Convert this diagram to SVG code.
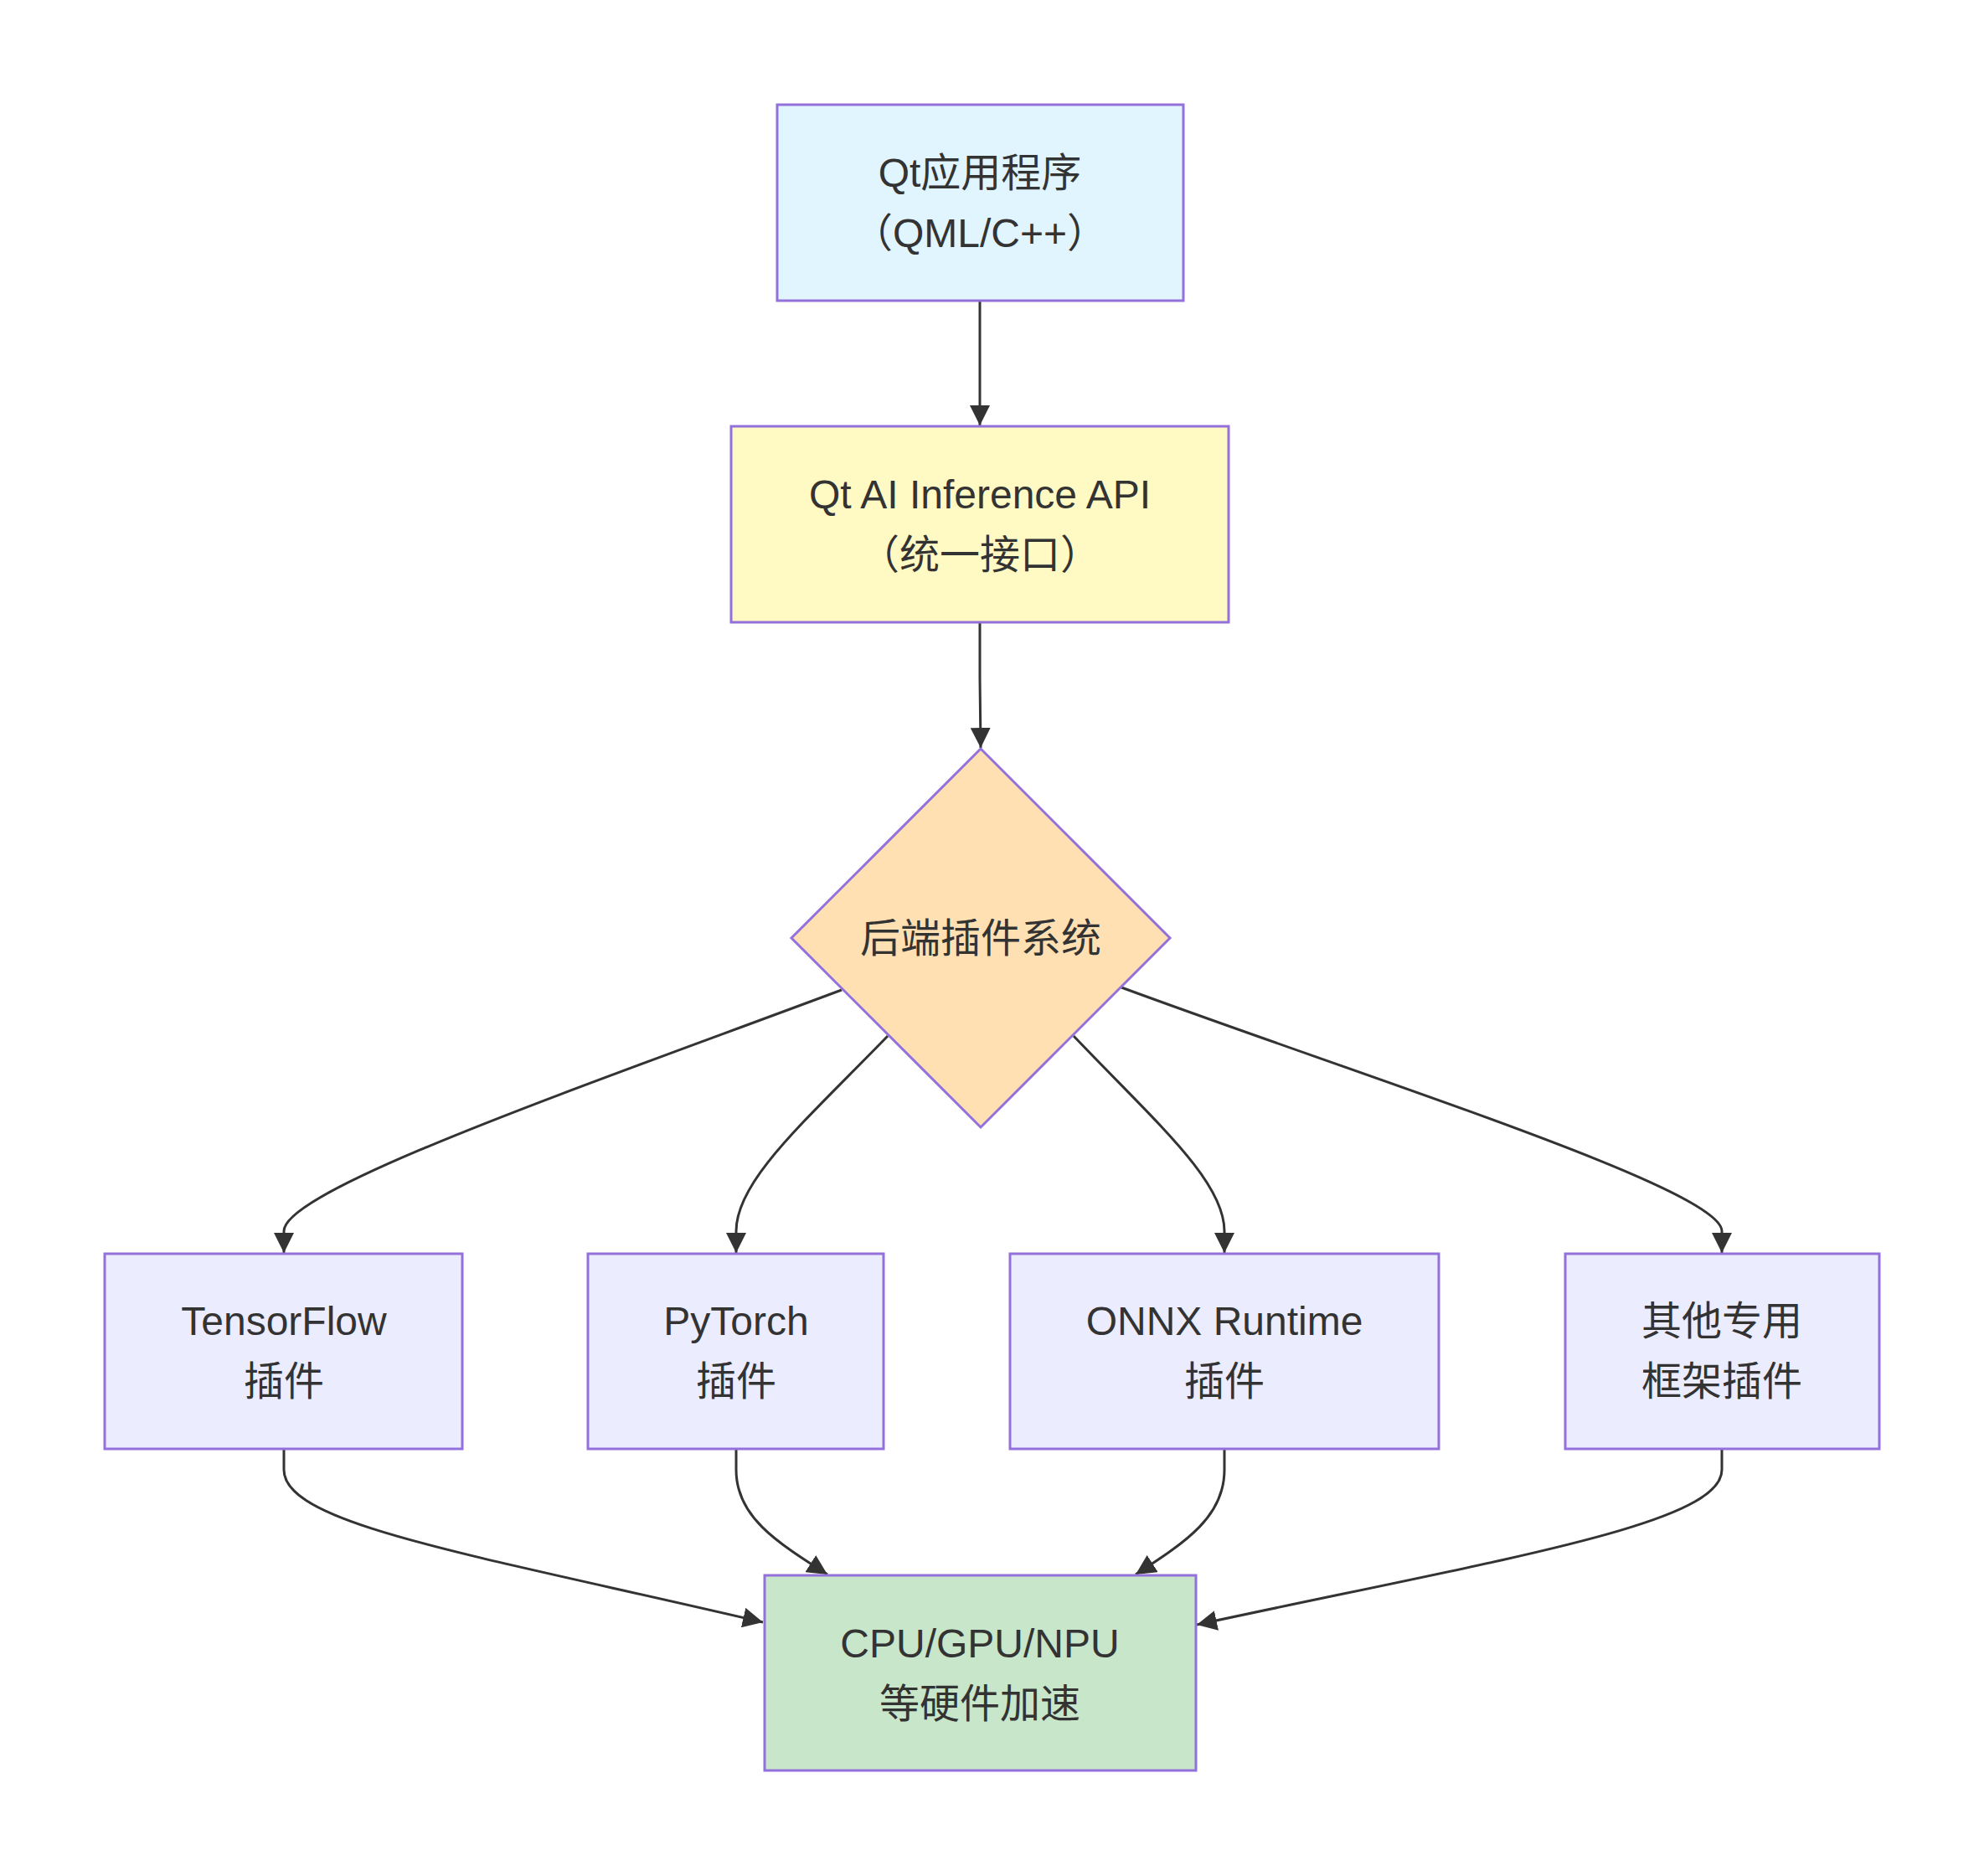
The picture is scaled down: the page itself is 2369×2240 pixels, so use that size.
<svg xmlns="http://www.w3.org/2000/svg" width="2369" height="2240" viewBox="0 0 2369 2240">
<defs>
<style>
.node{stroke:#9370DB;stroke-width:3}
.def{fill:#ECECFF}
.edge{fill:none;stroke:#333333;stroke-width:3}
text{font-family:"Liberation Sans","Noto Sans CJK SC",Arial,sans-serif;font-size:48px;fill:#333333;text-anchor:middle;dominant-baseline:central}
</style>
<marker id="arrow" viewBox="0 0 10 10" refX="10" refY="5" markerUnits="userSpaceOnUse" markerWidth="24" markerHeight="24" orient="auto">
<path d="M0,0 L10,5 L0,10 z" fill="#333333"/>
</marker>
</defs>
<rect x="0" y="0" width="2369" height="2240" fill="#ffffff"/>
<g id="edges">
<path class="edge" d="M1170,360 L1170,508" marker-end="url(#arrow)"/>
<path class="edge" d="M1170,744 L1170,810 L1171,893" marker-end="url(#arrow)"/>
<path class="edge" d="M1005,1182 C700,1296 339,1420 339,1470 L339,1496" marker-end="url(#arrow)"/>
<path class="edge" d="M1060,1237 C960,1340 879,1410 879,1470 L879,1496" marker-end="url(#arrow)"/>
<path class="edge" d="M1282,1237 C1380,1340 1462,1410 1462,1470 L1462,1496" marker-end="url(#arrow)"/>
<path class="edge" d="M1339,1179 C1640,1290 2056,1420 2056,1470 L2056,1496" marker-end="url(#arrow)"/>
<path class="edge" d="M339,1731 L339,1755 C339,1820 560,1855 911,1937" marker-end="url(#arrow)"/>
<path class="edge" d="M879,1731 L879,1755 C879,1810 925,1840 988,1880" marker-end="url(#arrow)"/>
<path class="edge" d="M1462,1731 L1462,1755 C1462,1810 1418,1840 1356,1880" marker-end="url(#arrow)"/>
<path class="edge" d="M2056,1731 L2056,1755 C2056,1820 1800,1860 1429,1940" marker-end="url(#arrow)"/>
</g>
<g id="app">
<rect class="node" x="928" y="125" width="485" height="234" fill="#E1F5FE"/>
<text x="1170" y="206">Qt应用程序</text>
<text x="1170" y="278">（QML/C++）</text>
</g>
<g id="api">
<rect class="node" x="873" y="509" width="594" height="234" fill="#FFF9C4"/>
<text x="1170" y="590">Qt AI Inference API</text>
<text x="1170" y="662">（统一接口）</text>
</g>
<g id="backend">
<polygon class="node" points="1171,894 1397,1120 1171,1346 945,1120" fill="#FFE0B2"/>
<text x="1171" y="1120">后端插件系统</text>
</g>
<g id="tensorflow">
<rect class="node def" x="125" y="1497" width="427" height="233"/>
<text x="339" y="1577">TensorFlow</text>
<text x="339" y="1649">插件</text>
</g>
<g id="pytorch">
<rect class="node def" x="702" y="1497" width="353" height="233"/>
<text x="879" y="1577">PyTorch</text>
<text x="879" y="1649">插件</text>
</g>
<g id="onnx">
<rect class="node def" x="1206" y="1497" width="512" height="233"/>
<text x="1462" y="1577">ONNX Runtime</text>
<text x="1462" y="1649">插件</text>
</g>
<g id="other">
<rect class="node def" x="1869" y="1497" width="375" height="233"/>
<text x="2056" y="1577">其他专用</text>
<text x="2056" y="1649">框架插件</text>
</g>
<g id="hardware">
<rect class="node" x="913" y="1881" width="515" height="233" fill="#C8E6C9"/>
<text x="1170" y="1962">CPU/GPU/NPU</text>
<text x="1170" y="2034">等硬件加速</text>
</g>
</svg>
